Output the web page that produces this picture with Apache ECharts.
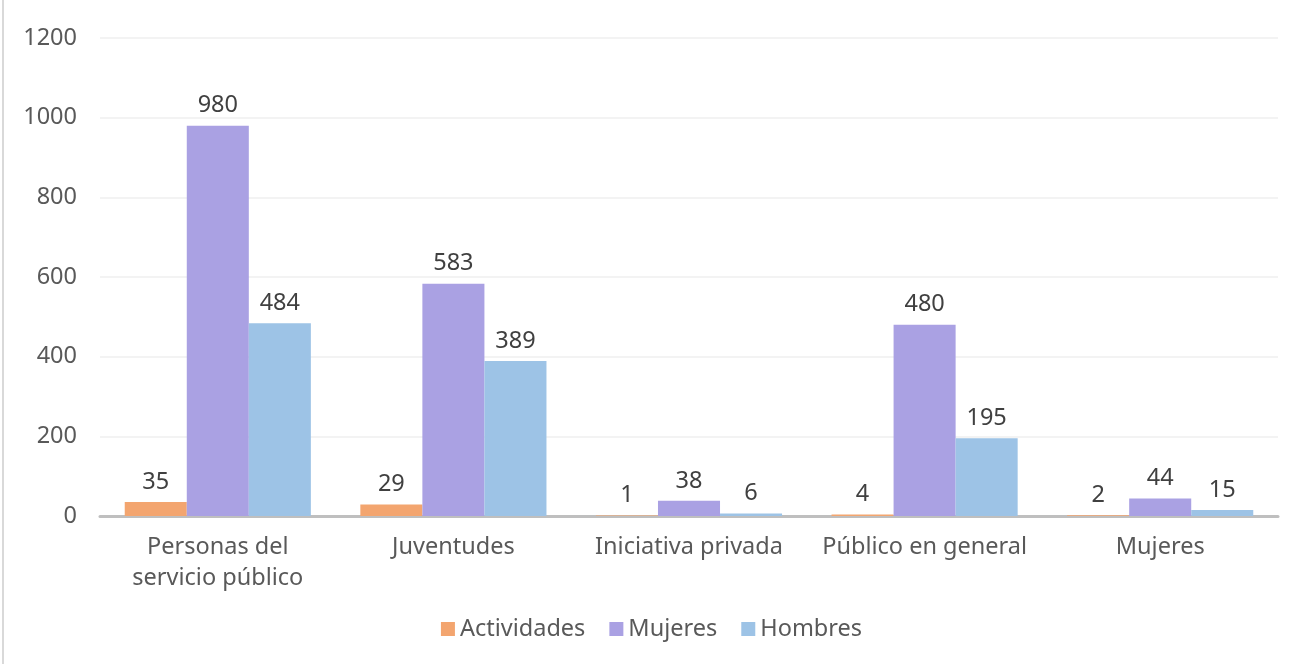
<!DOCTYPE html>
<html>
<head>
<meta charset="utf-8">
<script src="https://cdn.jsdelivr.net/npm/echarts@6/dist/echarts.min.js"></script>
<style>
  html, body { margin: 0; padding: 0; background: #fff; }
  #chart { width: 1303px; height: 664px; }
</style>
</head>
<body>
<div id="chart"></div>
<script>
// categorias y valores
const categories = ["Personas del\nservicio público", "Juventudes", "Iniciativa privada", "Público en general", "Mujeres"];
const actividades = [35, 29, 1, 4, 2];
const mujeres = [980, 583, 38, 480, 44];
const hombres = [484, 389, 6, 195, 15];

const textColor = "#595959";
const font = "'Noto Sans', sans-serif";
const fs = 23.5;

let myChart = echarts.init(document.getElementById("chart"));

function serie(name, data, color) {
  return {
    name: name,
    type: "bar",
    data: data,
    barGap: "0%",
    barCategoryGap: "21%",
    itemStyle: { color: color },
    label: {
      show: true,
      position: "top",
      distance: 8,
      color: "#404040",
      fontSize: fs,
      fontFamily: font,
    },
  };
}

let option = {
  animation: false,
  textStyle: { fontFamily: font },
  grid: { left: 100, right: 25, top: 38, bottom: 148 },
  legend: {
    bottom: 18,
    left: "center",
    itemWidth: 14,
    itemHeight: 14,
    itemGap: 24,
    icon: "rect",
    textStyle: { fontSize: fs, color: textColor, fontFamily: font },
    data: ["Actividades", "Mujeres", "Hombres"],
  },
  xAxis: {
    type: "category",
    data: categories,
    axisLine: { lineStyle: { color: "#bfbfbf", width: 3 } },
    axisTick: { show: false },
    axisLabel: {
      interval: 0,
      fontSize: fs,
      color: textColor,
      margin: 16,
      lineHeight: 31,
      fontFamily: font,
    },
  },
  yAxis: {
    type: "value",
    min: 0,
    max: 1200,
    interval: 200,
    axisLine: { show: false },
    axisTick: { show: false },
    splitLine: { lineStyle: { color: "#efefef", width: 1.5 } },
    axisLabel: {
      fontSize: fs,
      color: textColor,
      margin: 23,
      fontFamily: font,
      formatter: (v) => String(v),
    },
  },
  graphic: [
    {
      type: "rect",
      shape: { x: 2, y: 0, width: 2, height: 664 },
      style: { fill: "#d9d9d9" },
    },
  ],
  series: [
    serie("Actividades", actividades, "#F3A56F"),
    serie("Mujeres", mujeres, "#AAA1E3"),
    serie("Hombres", hombres, "#9DC3E6"),
  ],
};

option && myChart.setOption(option);
</script>
</body>
</html>
